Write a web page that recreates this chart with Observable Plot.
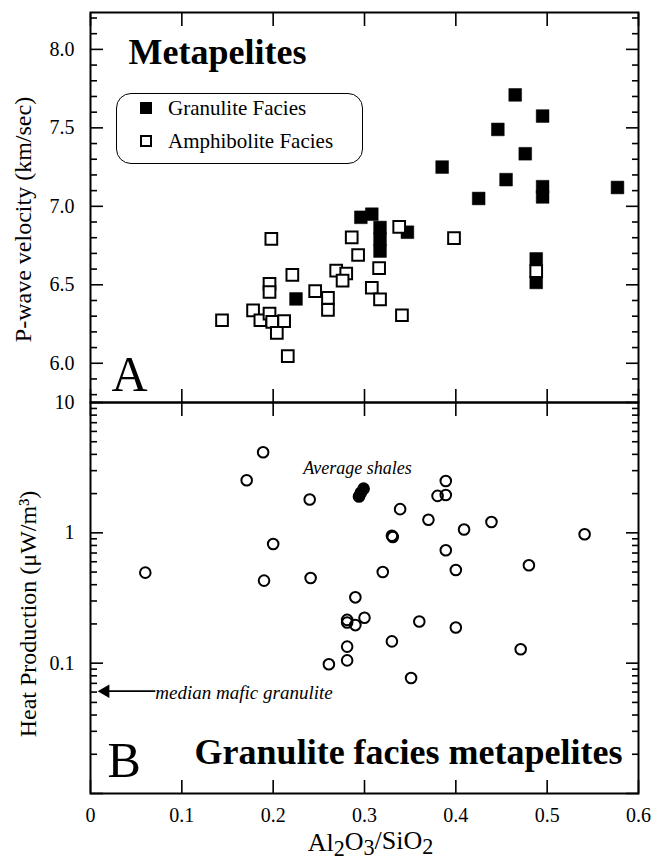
<!DOCTYPE html>
<html>
<head>
<meta charset="utf-8">
<script src="https://cdn.jsdelivr.net/npm/d3@7"></script>
<script src="https://cdn.jsdelivr.net/npm/@observablehq/plot@0.6"></script>
<style>
  body { margin: 0; background: #fff; }
  #wrap { position: relative; width: 651px; height: 864px; font-family: "Liberation Serif", serif; color: #000; }
  #wrap svg { display: block; overflow: visible; }
  .legend { position: absolute; left: 116px; top: 93px; width: 247px; height: 71px; box-sizing: border-box;
            border: 1.5px solid #000; border-radius: 15px; font-size: 21px; }
  .legend .row { position: absolute; left: 23px; height: 20px; display: flex; align-items: center; white-space: nowrap; }
  .legend .sw { width: 12px; height: 12px; box-sizing: border-box; border: 2px solid #000; margin-right: 16px; }
</style>
</head>
<body>
<div id="wrap"></div>
<script>
// ---------- data ----------
// Panel A: P-wave velocity (km/s) vs Al2O3/SiO2
const granuliteX = [0.465, 0.495, 0.446, 0.476, 0.385, 0.455, 0.425, 0.495, 0.495, 0.577,
                    0.296, 0.308, 0.317, 0.317, 0.317, 0.347, 0.225, 0.488, 0.488];
const granuliteV = [7.71, 7.575, 7.49, 7.335, 7.25, 7.17, 7.05, 7.125, 7.06, 7.12,
                    6.93, 6.95, 6.865, 6.79, 6.715, 6.835, 6.41, 6.665, 6.515];
const amphiboliteX = [0.144, 0.198, 0.196, 0.196, 0.178, 0.186, 0.196, 0.199, 0.204, 0.212,
                      0.216, 0.221, 0.246, 0.260, 0.260, 0.269, 0.280, 0.276, 0.286, 0.293,
                      0.316, 0.308, 0.317, 0.341, 0.338, 0.398, 0.488];
const amphiboliteV = [6.274, 6.792, 6.506, 6.454, 6.337, 6.274, 6.316, 6.264, 6.194, 6.268,
                      6.046, 6.563, 6.46, 6.417, 6.34, 6.59, 6.572, 6.526, 6.802, 6.69,
                      6.606, 6.481, 6.407, 6.306, 6.869, 6.797, 6.587];
// Panel B: heat production (µW/m3) vs Al2O3/SiO2
const heatX = [0.060, 0.189, 0.171, 0.240, 0.200, 0.190, 0.241, 0.290, 0.281, 0.281,
               0.290, 0.300, 0.281, 0.281, 0.261, 0.330, 0.331, 0.339, 0.370, 0.389,
               0.389, 0.380, 0.409, 0.439, 0.541, 0.389, 0.400, 0.320, 0.480, 0.360,
               0.400, 0.330, 0.471, 0.351];
const heatH = [0.495, 4.15, 2.53, 1.8, 0.82, 0.43, 0.45, 0.32, 0.215, 0.205,
               0.196, 0.223, 0.134, 0.105, 0.098, 0.95, 0.93, 1.52, 1.26, 2.5,
               1.95, 1.92, 1.06, 1.21, 0.975, 0.735, 0.518, 0.5, 0.564, 0.209,
               0.188, 0.147, 0.128, 0.077];
const shaleX = [0.299, 0.296, 0.294];
const shaleH = [2.18, 2.03, 1.9];
const maficArrow = [{x1: 0.071, x2: 0.012, y: 0.061, label: "median mafic granulite"}];

// ticks & labels
const xTicks = [0, 0.1, 0.2, 0.3, 0.4, 0.5, 0.6];
const vMajor = [6.0, 6.5, 7.0, 7.5, 8.0];
const vMinor = [5.8, 5.9, 6.1, 6.2, 6.3, 6.4, 6.6, 6.7, 6.8, 6.9, 7.1, 7.2, 7.3, 7.4, 7.6, 7.7, 7.8, 7.9, 8.1, 8.2];
const hMajor = [0.01, 0.1, 1, 10];
const hLabels = [0.1, 1, 10];
const hMinor = [0.02,0.03,0.04,0.05,0.06,0.07,0.08,0.09, 0.2,0.3,0.4,0.5,0.6,0.7,0.8,0.9, 2,3,4,5,6,7,8,9];
const legendItems = [{label: "Granulite Facies", filled: true}, {label: "Amphibolite Facies", filled: false}];

const FONT = "Liberation Serif";
const granulite = granuliteX.map((x, i) => ({x, v: granuliteV[i]}));
const amphibolite = amphiboliteX.map((x, i) => ({x, v: amphiboliteV[i]}));
const heat = heatX.map((x, i) => ({x, h: heatH[i]}));
const shales = shaleX.map((x, i) => ({x, h: shaleH[i]}));

const TW = 1.6;
function tickMarks(xt, yMaj, yMin) {
  return [
    Plot.axisX(xt, {anchor: "bottom", tickSize: 13, dy: -13, fill: "none", stroke: "#000", strokeWidth: TW}),
    Plot.axisX(xt, {anchor: "top", tickSize: 13, dy: 13, fill: "none", stroke: "#000", strokeWidth: TW}),
    Plot.axisY(yMaj, {anchor: "left", tickSize: 13, dx: 13, fill: "none", stroke: "#000", strokeWidth: TW}),
    Plot.axisY(yMin, {anchor: "left", tickSize: 7, dx: 7, fill: "none", stroke: "#000", strokeWidth: TW}),
    Plot.axisY(yMaj, {anchor: "right", tickSize: 13, dx: -13, fill: "none", stroke: "#000", strokeWidth: TW}),
    Plot.axisY(yMin, {anchor: "right", tickSize: 7, dx: -7, fill: "none", stroke: "#000", strokeWidth: TW})
  ];
}
const STYLE = {fontFamily: FONT, fontSize: "20px", color: "#000", overflow: "visible", background: "transparent"};

const plotA = Plot.plot({
  width: 651, height: 402,
  marginLeft: 90, marginRight: 13, marginTop: 12, marginBottom: 0,
  style: STYLE,
  x: {domain: [0, 0.6], axis: null},
  y: {domain: [5.75, 8.235], axis: null},
  marks: [
    Plot.frame({stroke: "#000", strokeWidth: 2}),
    ...tickMarks(xTicks, vMajor, vMinor),
    Plot.axisY(vMajor, {anchor: "left", tickSize: 0, tickPadding: 16, tickFormat: d3.format(".1f"), fontSize: 20, fill: "#000", label: null}),
    Plot.text(["P-wave velocity (km/sec)"], {text: d => d, frameAnchor: "left", rotate: -90, dx: -67, dy: 12, fontSize: 24, fill: "#000", textAnchor: "middle", lineAnchor: "middle"}),
    Plot.dot(granulite, {x: "x", y: "v", symbol: "square", r: 7.2, fill: "#000", stroke: "#000", strokeWidth: 0.5}),
    Plot.dot(amphibolite, {x: "x", y: "v", symbol: "square", r: 6.6, fill: "#fff", stroke: "#000", strokeWidth: 2}),
    Plot.text(["Metapelites"], {text: d => d, frameAnchor: "top-left", textAnchor: "start", lineAnchor: "bottom", dx: 38, dy: 51, fontSize: 36, fontWeight: "bold", fill: "#000"}),
    Plot.text(["A"], {text: d => d, frameAnchor: "bottom-left", textAnchor: "start", lineAnchor: "bottom", dx: 21, dy: -12, fontSize: 50, fill: "#000"})
  ]
});

const plotB = Plot.plot({
  width: 651, height: 462,
  marginLeft: 90, marginRight: 13, marginTop: 0, marginBottom: 71,
  style: STYLE,
  x: {domain: [0, 0.6], axis: null},
  y: {type: "log", domain: [0.01, 10], axis: null},
  marks: [
    Plot.frame({stroke: "#000", strokeWidth: 2}),
    ...tickMarks(xTicks, hMajor, hMinor),
    Plot.axisY(hLabels, {anchor: "left", tickSize: 0, tickPadding: 16, tickFormat: d => String(d), fontSize: 20, fill: "#000", label: null}),
    Plot.axisX(xTicks, {anchor: "bottom", tickSize: 0, tickPadding: 14, tickFormat: d => String(d), fontSize: 20, fill: "#000", label: null}),
    Plot.text(["Heat Production (\u03BCW/m\u00B3)"], {text: d => d, frameAnchor: "left", rotate: -90, dx: -62, dy: 16, fontSize: 24, fill: "#000", textAnchor: "middle", lineAnchor: "middle"}),
    Plot.text(["Al2O3/SiO2"], {text: d => d, frameAnchor: "bottom", dx: 6, dy: 49, fontSize: 26, fill: "#000", textAnchor: "middle", lineAnchor: "middle", className: "xlab"}),
    Plot.dot(heat, {x: "x", y: "h", r: 5.3, fill: "none", stroke: "#000", strokeWidth: 2}),
    Plot.dot(shales, {x: "x", y: "h", r: 5.6, fill: "#000", stroke: "#000"}),
    Plot.text(["Average shales"], {text: d => d, x: shaleX[0], y: shaleH[0], dx: -6, dy: -20, fontSize: 18, fontStyle: "italic", fill: "#000", textAnchor: "middle", lineAnchor: "middle"}),
    Plot.link(maficArrow, {x1: "x1", x2: "x2", y1: "y", y2: "y", stroke: "#000", strokeWidth: 1.6}),
    Plot.dot(maficArrow, {x: "x2", y: "y", symbol: "triangle", rotate: -90, r: 5, fill: "#000", dx: 4}),
    Plot.text(maficArrow, {x: "x1", y: "y", text: "label", textAnchor: "start", lineAnchor: "middle", dy: 2, fontSize: 19, fontStyle: "italic", fill: "#000"}),
    Plot.text(["B"], {text: d => d, frameAnchor: "bottom-left", textAnchor: "start", lineAnchor: "bottom", dx: 17, dy: -17, fontSize: 50, fill: "#000"}),
    Plot.text(["Granulite facies metapelites"], {text: d => d, frameAnchor: "bottom-right", textAnchor: "end", lineAnchor: "bottom", dx: -16, dy: -30, fontSize: 36, fontWeight: "bold", fill: "#000"})
  ]
});

const wrap = document.getElementById("wrap");
wrap.appendChild(plotA);
wrap.appendChild(plotB);

// subscripts in x-axis label
d3.select(plotB).selectAll("g.xlab text").each(function () {
  const t = d3.select(this);
  t.text(null);
  const parts = [["Al", 0], ["2", 1], ["O", 0], ["3", 1], ["/SiO", 0], ["2", 1]];
  let prev = 0;
  for (const [s, sub] of parts) {
    const ts = t.append("tspan").text(s);
    if (sub) ts.attr("font-size", "0.85em");
    const shift = (sub ? 0.22 : 0) - prev;
    if (shift) ts.attr("dy", shift + "em");
    prev = sub ? 0.22 : 0;
  }
});

// legend (HTML overlay on panel A)
const leg = d3.select(wrap).append("div").attr("class", "legend");
legendItems.forEach((d, i) => {
  const row = leg.append("div").attr("class", "row").style("top", (4 + i * 33) + "px");
  row.append("div").attr("class", "sw").style("background", d.filled ? "#000" : "#fff");
  row.append("span").text(d.label);
});
</script>
</body>
</html>
